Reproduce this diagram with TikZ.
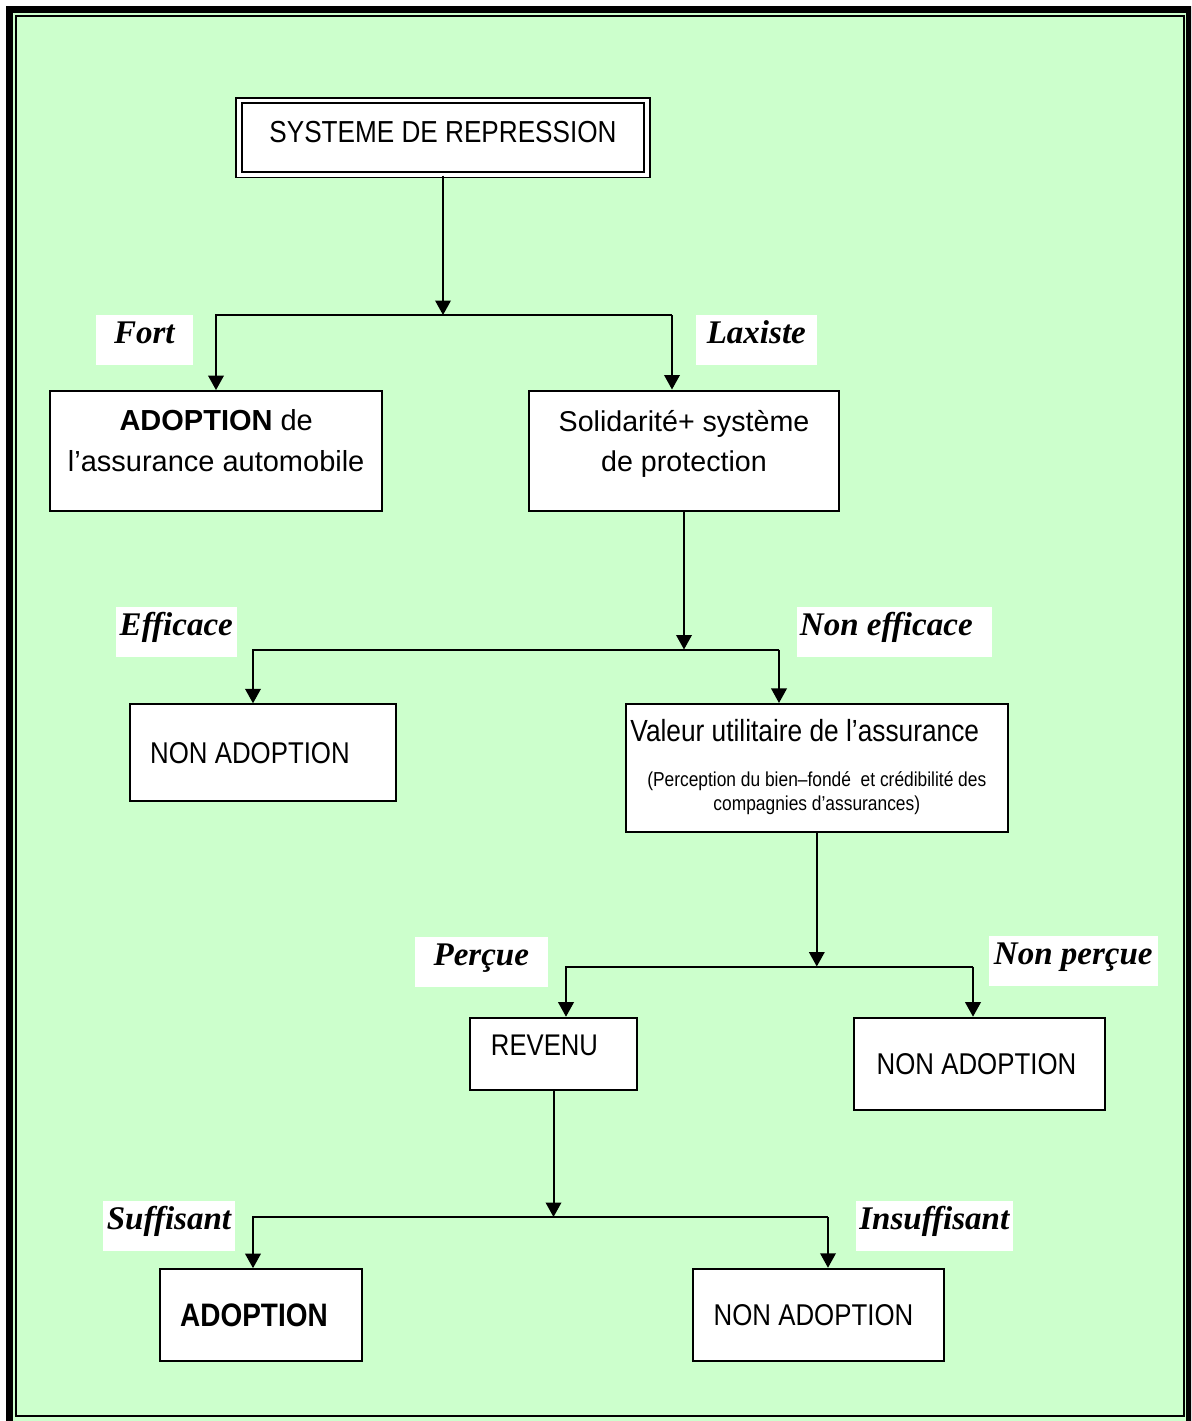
\documentclass[tikz,border=0pt]{standalone}
\usepackage{fontspec}
\usetikzlibrary{arrows.meta}
\newfontfamily\boxfont{Liberation Sans}
\newfontfamily\narrowfont[FakeStretch=0.86]{Liberation Sans}
\newfontfamily\labfont{Liberation Serif}
\definecolor{paleGreen}{RGB}{204,255,204}
\tikzset{
  box/.style={draw, fill=white, line width=0.04cm, inner sep=0pt, align=center},
  lab/.style={fill=white, inner sep=0pt, anchor=north, text height=0.56cm, text depth=0.44cm,
    font=\labfont\bfseries\itshape\fontsize{18.8pt}{22pt}\selectfont},
  arr/.style={line width=0.04cm, -{Triangle[width=0.31cm,length=0.29cm]}},
  bar/.style={line width=0.04cm}
}
\begin{document}
\begin{tikzpicture}[x=0.02cm, y=-0.02cm]
\clip (0,0) rectangle (1191,1421);
\fill[paleGreen] (12,12) rectangle (1191,1421);
\draw[line width=0.134cm] (9.35,9.35) rectangle (1189.5,1440);
\draw[line width=0.04cm] (15.7,15.7) rectangle (1184.2,1416.3);

\node[box, double, double distance=0.07cm, line width=0.038cm, minimum width=8.16cm, minimum height=1.49cm,
  text depth=0.24cm, font=\narrowfont\fontsize{17.3pt}{20pt}\selectfont] (top) at (443,137.5) {SYSTEME DE REPRESSION};
\node[box, minimum width=6.65cm, minimum height=2.39cm, text depth=0.4cm,
  font=\boxfont\fontsize{16.5pt}{23.2pt}\selectfont] (adopt) at (216.2,450.8) {\textbf{ADOPTION} de\\l’assurance automobile};
\node[box, minimum width=6.2cm, minimum height=2.42cm, text depth=0.4cm,
  font=\boxfont\fontsize{16.3pt}{23.2pt}\selectfont] (solid) at (684,451) {Solidarité+ système\\de protection};
\node[box, minimum width=5.31cm, minimum height=1.94cm,
  font=\narrowfont\fontsize{17.1pt}{20pt}\selectfont] (nonA) at (263,752.8) {NON ADOPTION\hspace*{0.52cm}};
\node[box, minimum width=7.65cm, minimum height=2.57cm, text depth=0.12cm,
  font=\narrowfont\fontsize{11.5pt}{13.7pt}\selectfont] (valeur) at (816.8,768.2)
  {{\fontsize{17.4pt}{20pt}\selectfont Valeur utilitaire de l’assurance}\hspace*{0.48cm}\\[12pt]
   (Perception du bien–fondé\ \ et crédibilité des\\compagnies d’assurances)};
\node[box, minimum width=3.33cm, minimum height=1.44cm, text depth=0.32cm,
  font=\narrowfont\fontsize{17pt}{20pt}\selectfont] (revenu) at (553.5,1053.7) {REVENU\hspace*{0.36cm}};
\node[box, minimum width=5.01cm, minimum height=1.84cm,
  font=\narrowfont\fontsize{17.1pt}{20pt}\selectfont] (nonB) at (979.5,1063.7) {NON ADOPTION\hspace*{0.12cm}};
\node[box, minimum width=4.05cm, minimum height=1.83cm,
  font=\narrowfont\bfseries\fontsize{18.5pt}{20pt}\selectfont] (adoptB) at (261,1314.9) {ADOPTION\hspace*{0.28cm}};
\node[box, minimum width=5.02cm, minimum height=1.85cm,
  font=\narrowfont\fontsize{17.1pt}{20pt}\selectfont] (nonC) at (818.5,1315) {NON ADOPTION\hspace*{0.2cm}};

\node[lab, minimum width=1.93cm] (fort) at (144.3,315) {Fort};
\node[lab, minimum width=2.41cm] (laxiste) at (756.3,315) {Laxiste};
\node[lab, minimum width=2.41cm] (efficace) at (176.3,606.7) {Efficace};
\node[lab, minimum width=3.9cm] (nonEff) at (894.3,606.7) {Non efficace\hspace*{0.32cm}};
\node[lab, minimum width=2.65cm] (percue) at (481.3,936.7) {Perçue};
\node[lab, minimum width=3.37cm] (nonPer) at (1073.3,936) {Non perçue};
\node[lab, minimum width=2.64cm] (suff) at (169,1201) {Suffisant};
\node[lab, minimum width=3.13cm] (insuff) at (934.3,1201) {Insuffisant};

\coordinate (l1) at (216,315);
\coordinate (r1) at (672,315);
\coordinate (l2) at (253,649.5);
\coordinate (r2) at (779,649.5);
\coordinate (l3) at (566,966.5);
\coordinate (r3) at (973,966.5);
\coordinate (l4) at (253,1217);
\coordinate (r4) at (828,1217);

\draw[arr] (top) -- (top |- l1);
\draw[arr] (r1) -- (l1) -- (l1 |- adopt.north);
\draw[arr] (r1) -- (r1 |- solid.north);
\draw[arr] (solid) -- (solid |- l2);
\draw[arr] (r2) -- (l2) -- (l2 |- nonA.north);
\draw[arr] (r2) -- (r2 |- valeur.north);
\draw[arr] (valeur) -- (valeur |- l3);
\draw[arr] (r3) -- (l3) -- (l3 |- revenu.north);
\draw[arr] (r3) -- (r3 |- nonB.north);
\draw[arr] (revenu) -- (revenu |- l4);
\draw[arr] (r4) -- (l4) -- (l4 |- adoptB.north);
\draw[arr] (r4) -- (r4 |- nonC.north);
\end{tikzpicture}
\end{document}
